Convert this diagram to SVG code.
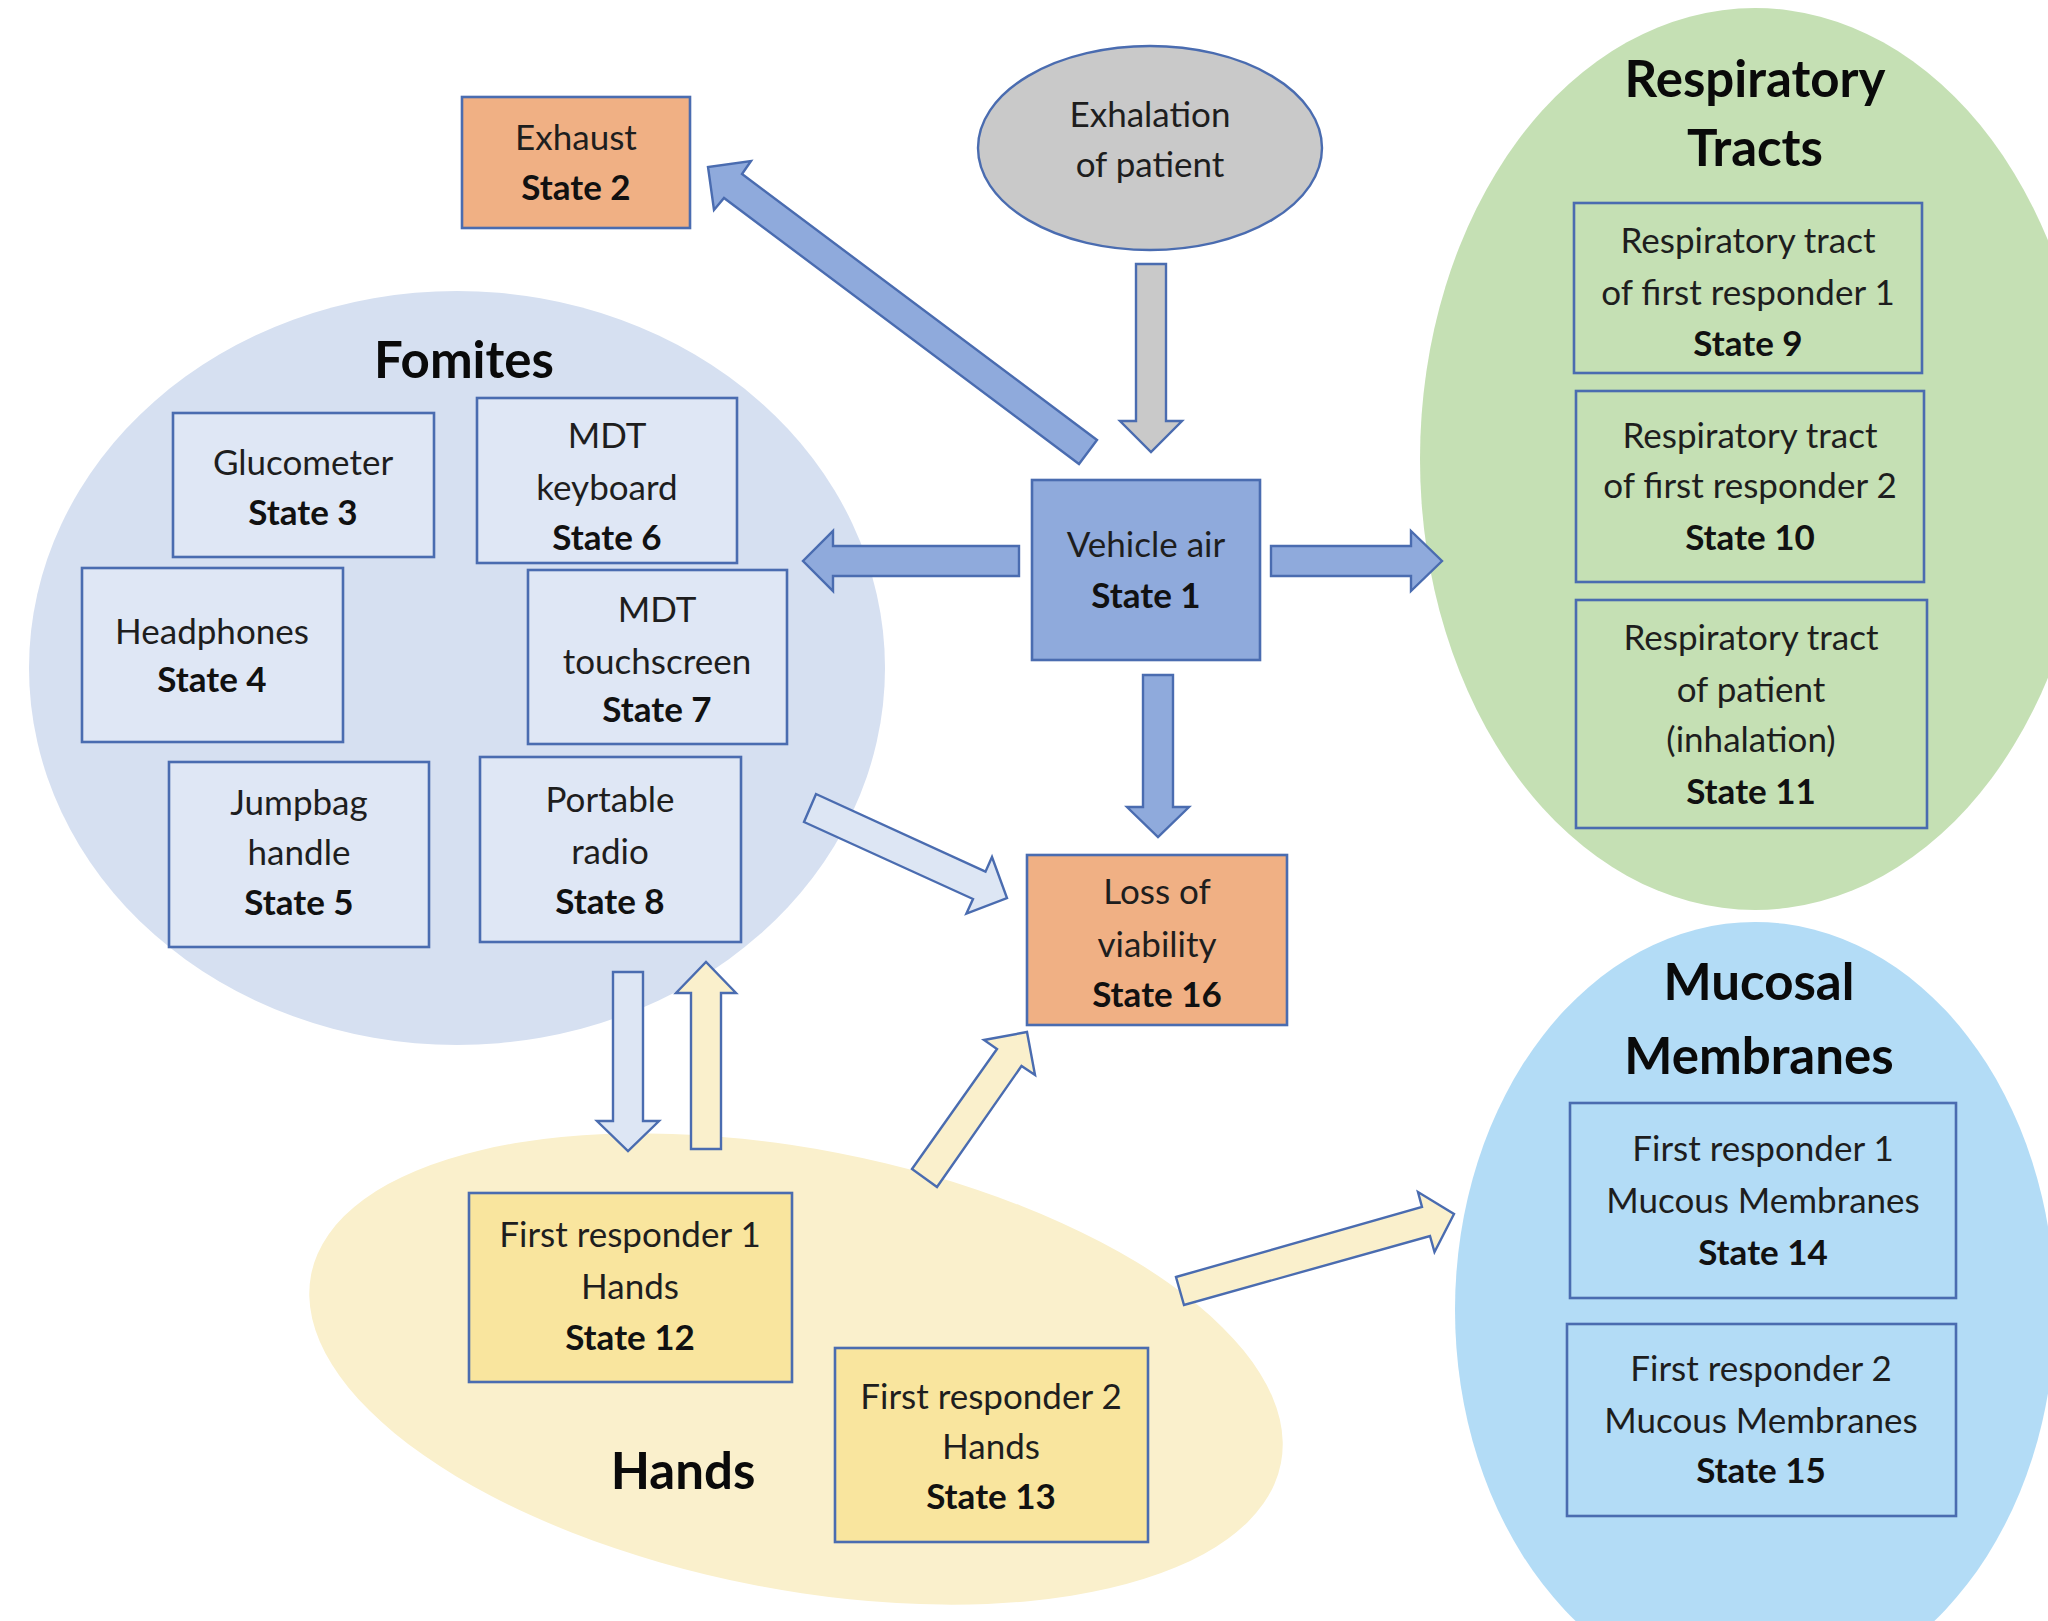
<svg xmlns="http://www.w3.org/2000/svg" width="2048" height="1621" viewBox="0 0 2048 1621">
<style>
text{font-family:Lato,"Open Sans","Liberation Sans",sans-serif;fill:#1e1e1e;text-anchor:middle}
.t{font-size:35px}
.b{font-size:35px;font-weight:bold;fill:#111}
.h{font-size:51px;font-weight:bold;fill:#0a0a0a}
.box{stroke:#4a6cb0;stroke-width:2.6}
.fom{fill:#dfe7f5}
.resp{fill:#c5e0b4}
.muc{fill:#b3dcf6}
.hand{fill:#f9e59e}
.org{fill:#f0b084}
.arr{stroke:#4a6cb0;stroke-width:2.4;stroke-linejoin:miter}
.ab{fill:#8faadc}
.ag{fill:#c9c9c9}
.al{fill:#dde6f4}
.ay{fill:#faf0cc}
</style>
<rect width="2048" height="1621" fill="#ffffff"/>
<g id="fomites-group">
<ellipse cx="457" cy="668" rx="428" ry="377" fill="#d6e0f1"/>
<text class="h" x="464" y="378">Fomites</text>
</g>
<g id="respiratory-group">
<ellipse cx="1755" cy="459" rx="335" ry="451" fill="#c5e0b4"/>
<text class="h" x="1755" y="97">Respiratory</text>
<text class="h" x="1755" y="166">Tracts</text>
</g>
<g id="mucosal-group">
<ellipse cx="1755" cy="1310" rx="300" ry="388" fill="#b3dcf6"/>
<text class="h" x="1759" y="1000">Mucosal</text>
<text class="h" x="1759" y="1074">Membranes</text>
</g>
<g id="hands-group">
<ellipse cx="796" cy="1369" rx="494" ry="220" transform="rotate(11 796 1369)" fill="#faf0cc"/>
<text class="h" x="683" y="1489">Hands</text>
</g>
<g id="connectors">
<polygon class="arr ab" points="1097,440 742,174 751,161 708,167 714,210 724,198 1079,464"/>
<polygon class="arr ag" points="1136,264 1166,264 1166,421 1182,421 1151,452 1120,421 1136,421"/>
<polygon class="arr ab" points="1019,546 833,546 833,531 803,561 833,591 833,576 1019,576"/>
<polygon class="arr ab" points="1271,546 1411,546 1411,531 1442,561 1411,591 1411,576 1271,576"/>
<polygon class="arr ab" points="1143,675 1173,675 1173,807 1189,807 1158,837 1127,807 1143,807"/>
<polygon class="arr al" points="816,794 985.5,871.7 992,857 1007,898 966.4,913.5 973,899 804,822"/>
<polygon class="arr al" points="613,972 643,972 643,1121 659,1121 628,1151 597,1121 613,1121"/>
<polygon class="arr ay" points="691,1149 691,993 676,993 706,962 736,993 721,993 721,1149"/>
<polygon class="arr ay" points="912,1169 997,1049 984,1040 1027,1032 1035,1075 1021.5,1066 937,1187"/>
<polygon class="arr ay" points="1176,1277 1422,1207 1418,1192 1454,1214 1434.5,1252 1430,1236 1184,1305"/>
</g>
<g id="exhaust">
<rect class="box org" x="462" y="97" width="228" height="131"/>
<text class="t" x="576" y="150">Exhaust</text>
<text class="b" x="576" y="200">State 2</text>
</g>
<g id="exhalation">
<ellipse cx="1150" cy="148" rx="172" ry="102" fill="#c9c9c9" stroke="#4a6cb0" stroke-width="2.4"/>
<text class="t" x="1150" y="127">Exhalation</text>
<text class="t" x="1150" y="177">of patient</text>
</g>
<g id="vehicle-air">
<rect class="box" x="1032" y="480" width="228" height="180" fill="#8faadc"/>
<text class="t" x="1146" y="557">Vehicle air</text>
<text class="b" x="1146" y="608">State 1</text>
</g>
<g id="loss-of-viability">
<rect class="box org" x="1027" y="855" width="260" height="170"/>
<text class="t" x="1157" y="904">Loss of</text>
<text class="t" x="1157" y="957">viability</text>
<text class="b" x="1157" y="1007">State 16</text>
</g>
<g id="glucometer">
<rect class="box fom" x="173" y="413" width="261" height="144"/>
<text class="t" x="303" y="475">Glucometer</text>
<text class="b" x="303" y="525">State 3</text>
</g>
<g id="mdt-keyboard">
<rect class="box fom" x="477" y="398" width="260" height="165"/>
<text class="t" x="607" y="448">MDT</text>
<text class="t" x="607" y="500">keyboard</text>
<text class="b" x="607" y="550">State 6</text>
</g>
<g id="headphones">
<rect class="box fom" x="82" y="568" width="261" height="174"/>
<text class="t" x="212" y="644">Headphones</text>
<text class="b" x="212" y="692">State 4</text>
</g>
<g id="mdt-touchscreen">
<rect class="box fom" x="528" y="570" width="259" height="174"/>
<text class="t" x="657" y="622">MDT</text>
<text class="t" x="657" y="674">touchscreen</text>
<text class="b" x="657" y="722">State 7</text>
</g>
<g id="jumpbag-handle">
<rect class="box fom" x="169" y="762" width="260" height="185"/>
<text class="t" x="299" y="815">Jumpbag</text>
<text class="t" x="299" y="865">handle</text>
<text class="b" x="299" y="915">State 5</text>
</g>
<g id="portable-radio">
<rect class="box fom" x="480" y="757" width="261" height="185"/>
<text class="t" x="610" y="812">Portable</text>
<text class="t" x="610" y="864">radio</text>
<text class="b" x="610" y="914">State 8</text>
</g>
<g id="state9">
<rect class="box resp" x="1574" y="203" width="348" height="170"/>
<text class="t" x="1748" y="253">Respiratory tract</text>
<text class="t" x="1748" y="305">of first responder 1</text>
<text class="b" x="1748" y="356">State 9</text>
</g>
<g id="state10">
<rect class="box resp" x="1576" y="391" width="348" height="191"/>
<text class="t" x="1750" y="448">Respiratory tract</text>
<text class="t" x="1750" y="498">of first responder 2</text>
<text class="b" x="1750" y="550">State 10</text>
</g>
<g id="state11">
<rect class="box resp" x="1576" y="600" width="351" height="228"/>
<text class="t" x="1751" y="650">Respiratory tract</text>
<text class="t" x="1751" y="702">of patient</text>
<text class="t" x="1751" y="752">(inhalation)</text>
<text class="b" x="1751" y="804">State 11</text>
</g>
<g id="state14">
<rect class="box muc" x="1570" y="1103" width="386" height="195"/>
<text class="t" x="1763" y="1161">First responder 1</text>
<text class="t" x="1763" y="1213">Mucous Membranes</text>
<text class="b" x="1763" y="1265">State 14</text>
</g>
<g id="state15">
<rect class="box muc" x="1567" y="1324" width="389" height="192"/>
<text class="t" x="1761" y="1381">First responder 2</text>
<text class="t" x="1761" y="1433">Mucous Membranes</text>
<text class="b" x="1761" y="1483">State 15</text>
</g>
<g id="state12">
<rect class="box hand" x="469" y="1193" width="323" height="189"/>
<text class="t" x="630" y="1247">First responder 1</text>
<text class="t" x="630" y="1299">Hands</text>
<text class="b" x="630" y="1350">State 12</text>
</g>
<g id="state13">
<rect class="box hand" x="835" y="1348" width="313" height="194"/>
<text class="t" x="991" y="1409">First responder 2</text>
<text class="t" x="991" y="1459">Hands</text>
<text class="b" x="991" y="1509">State 13</text>
</g>
</svg>
